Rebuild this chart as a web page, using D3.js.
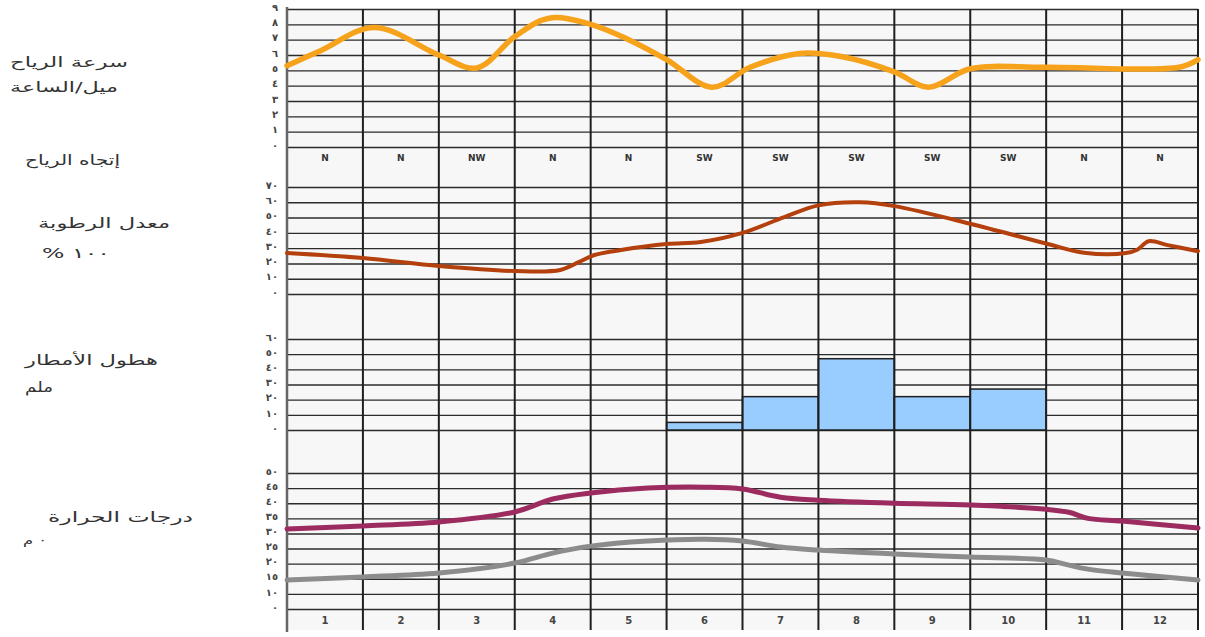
<!DOCTYPE html>
<html>
<head>
<meta charset="utf-8">
<script src="https://cdn.jsdelivr.net/npm/d3@7"></script>
<style>
  body { margin: 0; background: #fff; }
  text { font-family: "DejaVu Sans", sans-serif; }
</style>
</head>
<body>
<script>
// months along the bottom
const months = ["1","2","3","4","5","6","7","8","9","10","11","12"]

// wind speed (mile/hour) (position in months)
const windPos   = [0, 0.45, 1.15, 2, 2.5, 3, 3.45, 4, 4.5, 5, 5.6, 6.1, 6.75, 7.3, 8, 8.45, 9, 10, 11.75, 12]
const windSpeed = [5.3, 6.3, 7.8, 6.0, 5.15, 7.2, 8.4, 8.0, 7.0, 5.7, 3.9, 5.2, 6.1, 5.9, 4.9, 3.9, 5.1, 5.2, 5.2, 5.7]
const windTicks = ["٩","٨","٧","٦","٥","٤","٣","٢","١","٠"]

// wind direction per month
const windDir = ["N","N","NW","N","N","SW","SW","SW","SW","SW","N","N"]

// humidity %
const humPos = [0, 1, 2, 3, 3.6, 3.85, 4.05, 4.4, 5, 5.45, 6, 6.55, 7, 7.55, 8, 9, 10, 10.5, 11.05, 11.2, 11.35, 11.6, 12]
const humVal = [26.8, 23.5, 18.3, 15.0, 15.7, 21, 25.5, 28.8, 32.7, 34, 40, 50.3, 58, 60, 57.5, 46, 33, 27, 26.8, 29, 34.5, 32, 28]
const humTicks = ["٧٠","٦٠","٥٠","٤٠","٣٠","٢٠","١٠","٠"]

// rainfall mm per month
const rain = [0, 0, 0, 0, 0, 5, 22, 47, 22, 27, 0, 0]
const rainTicks = ["٦٠","٥٠","٤٠","٣٠","٢٠","١٠","٠"]

// temperature max / min
const tmaxPos = [0, 1, 2, 3, 3.5, 4, 4.75, 5.5, 6, 6.5, 7, 8, 9, 10, 10.3, 10.55, 11, 12]
const tmaxVal = [31.5, 32.5, 33.8, 37.1, 41.4, 43.4, 45, 45.3, 44.7, 42, 41, 40, 39.4, 38, 37, 35, 34.1, 31.8]
const tminPos = [0, 1, 2, 3, 3.5, 4, 4.75, 5.5, 6, 6.5, 7, 8, 9, 10, 10.3, 10.55, 11, 12]
const tminVal = [14.6, 15.6, 16.9, 20.2, 23.5, 25.8, 27.5, 28.1, 27.5, 25.5, 24.5, 23.2, 22.2, 21.2, 19.5, 18.2, 16.9, 14.6]
const tempTickVals = [50, 45, 40, 35, 30, 25, 20, 15, 10, 5]
const tempTicks = ["٥٠","٤٥","٤٠","٣٥","٣٠","٢٥","٢٠","١٥","١٠","٠"]

const width = 1205, height = 637
const plotL = 287, plotR = 1198, plotT = 9, plotB = 630

const svg = d3.select("body").append("svg")
  .attr("width", width)
  .attr("height", height)

svg.append("rect").attr("width", width).attr("height", height).attr("fill", "#fff")
svg.append("rect")
  .attr("x", plotL).attr("y", plotT)
  .attr("width", plotR - plotL).attr("height", plotB - plotT)
  .attr("fill", "#f7f7f7")

const x = d3.scaleLinear().domain([0, 12]).range([plotL, plotR])
const yWind = d3.scaleLinear().domain([0, 9]).range([147, 9])
const yHum  = d3.scaleLinear().domain([0, 70]).range([294, 187])
const yRain = d3.scaleLinear().domain([0, 60]).range([430, 339])
const yTemp = d3.scaleLinear().domain([5, 50]).range([609, 473])

/* horizontal grid + tick labels for one panel */
const panelAxis = (scale, values, labels) => {
  const ax = d3.axisLeft(scale)
    .tickValues(values)
    .tickSize(-(plotR - plotL))
    .tickPadding(9)
    .tickFormat((d, i) => labels[i])
  const g = svg.append("g")
    .attr("transform", `translate(${plotL},0)`)
    .call(ax)
  g.select(".domain").remove()
  g.selectAll(".tick line").attr("stroke", "#2b2b2b").attr("stroke-width", 1.4)
  g.selectAll(".tick text")
    .attr("fill", "#444")
    .attr("font-size", 10)
    .attr("font-weight", "bold")
    .attr("y", -2)
}

panelAxis(yWind, d3.range(9, -1, -1), windTicks)
panelAxis(yHum, d3.range(70, -1, -10), humTicks)
panelAxis(yRain, d3.range(60, -1, -10), rainTicks)
panelAxis(yTemp, tempTickVals, tempTicks)

// rain bars
svg.append("g").selectAll("rect")
  .data(rain.map((v, i) => ({i, v})).filter(d => d.v > 0))
  .enter().append("rect")
  .attr("x", d => x(d.i))
  .attr("width", d => x(d.i + 1) - x(d.i))
  .attr("y", d => yRain(d.v))
  .attr("height", d => yRain(0) - yRain(d.v))
  .attr("fill", "#99ccff")
  .attr("stroke", "#1f1f1f")
  .attr("stroke-width", 1.5)

// vertical month lines
svg.append("g").selectAll("line")
  .data(d3.range(1, 13))
  .enter().append("line")
  .attr("x1", d => x(d)).attr("x2", d => x(d))
  .attr("y1", plotT).attr("y2", plotB)
  .attr("stroke", "#1f1f1f")
  .attr("stroke-width", 2)

// left axis
svg.append("line")
  .attr("x1", plotL).attr("x2", plotL)
  .attr("y1", plotT - 2).attr("y2", plotB + 2)
  .attr("stroke", "#666").attr("stroke-width", 2.5)

const drawCurve = (pos, vals, y, color, w) => {
  const line = d3.line()
    .x(d => x(d[0]))
    .y(d => y(d[1]))
    .curve(d3.curveCatmullRom.alpha(0.5))
  svg.append("path")
    .datum(pos.map((p, i) => [p, vals[i]]))
    .attr("d", line)
    .attr("fill", "none")
    .attr("stroke", color)
    .attr("stroke-width", w)
    .attr("stroke-linecap", "round")
    .attr("stroke-linejoin", "round")
}

drawCurve(windPos, windSpeed, yWind, "#f7a21b", 5.5)
drawCurve(humPos, humVal, yHum, "#b3400d", 4)
drawCurve(tmaxPos, tmaxVal, yTemp, "#9c2b60", 5)
drawCurve(tminPos, tminVal, yTemp, "#8c8c8c", 5)

// wind direction labels
svg.append("g").selectAll("text")
  .data(windDir)
  .enter().append("text")
  .attr("x", (d, i) => x(i + 0.5))
  .attr("y", 161)
  .attr("text-anchor", "middle")
  .attr("font-family", "Liberation Sans, Arial, sans-serif")
  .attr("font-size", 9)
  .attr("font-weight", "bold")
  .attr("fill", "#333")
  .text(d => d)

// month labels
svg.append("g").selectAll("text")
  .data(months)
  .enter().append("text")
  .attr("x", (d, i) => x(i + 0.5))
  .attr("y", 624)
  .attr("text-anchor", "middle")
  .attr("font-family", "Liberation Sans, Arial, sans-serif")
  .attr("font-size", 10)
  .attr("font-weight", "bold")
  .attr("fill", "#444")
  .text(d => d)

// Arabic panel titles (left side), stretched to the width seen in the picture
const titles = [
  {t: "سرعة الرياح", x: 10, y: 67, w: 118},
  {t: "ميل/الساعة", x: 10, y: 92, w: 108},
  {t: "إتجاه الرياح", x: 25, y: 165, w: 95},
  {t: "معدل الرطوبة", x: 38, y: 228, w: 132},
  {t: "١٠٠ %", x: 42, y: 258, w: 68},
  {t: "هطول الأمطار", x: 25, y: 365, w: 133},
  {t: "ملم", x: 25, y: 392, w: 28},
  {t: "درجات الحرارة", x: 48, y: 522, w: 145},
  {t: "٠ م", x: 23, y: 544, w: 24, s: 11}
]
svg.append("g").selectAll("text")
  .data(titles)
  .enter().append("text")
  .attr("x", d => d.x)
  .attr("y", d => d.y)
  .attr("direction", "rtl")
  .attr("text-anchor", "end")
  .attr("font-size", d => d.s || 14)
  .attr("textLength", d => d.w)
  .attr("lengthAdjust", "spacingAndGlyphs")
  .attr("fill", "#333")
  .text(d => d.t)
</script>
</body>
</html>
